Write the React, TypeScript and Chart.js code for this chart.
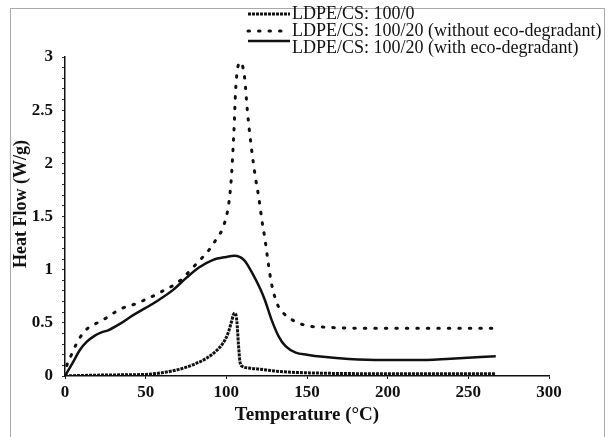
import React, { useEffect, useRef } from "react";
import { Chart, registerables } from "chart.js";

Chart.register(...registerables);

// LDPE/CS: 100/0
const tempPure = [0, 10, 20, 30, 40, 50, 60, 70, 80, 88, 94, 98, 101, 103, 104.5, 105.5, 106.5, 107.5, 108.5, 110, 114, 120, 135, 155, 180, 200, 230, 267];
const heatPure = [0.0, 0.005, 0.008, 0.01, 0.012, 0.015, 0.03, 0.06, 0.11, 0.17, 0.24, 0.31, 0.4, 0.5, 0.58, 0.59, 0.52, 0.3, 0.13, 0.09, 0.075, 0.065, 0.04, 0.028, 0.022, 0.02, 0.02, 0.02];

// LDPE/CS: 100/20 (without eco-degradant)
const tempWithout = [0, 1, 4, 7, 11, 15, 20, 26, 31, 36, 44, 50, 57, 63, 68, 73, 78, 83, 88.5, 93.5, 98.5, 101.5, 103, 104, 105, 105.7, 106.7, 108.3, 110, 111.5, 113, 115.5, 118, 120, 122, 124, 126, 128, 131.5, 135.5, 143, 151, 160, 180, 200, 230, 267];
const heatWithout = [0, 0.09, 0.2, 0.3, 0.4, 0.46, 0.5, 0.55, 0.6, 0.64, 0.68, 0.72, 0.77, 0.82, 0.86, 0.92, 1.0, 1.08, 1.17, 1.28, 1.42, 1.62, 1.84, 2.09, 2.4, 2.67, 2.86, 2.95, 2.92, 2.78, 2.5, 2.15, 1.87, 1.69, 1.47, 1.28, 1.06, 0.87, 0.68, 0.59, 0.51, 0.47, 0.46, 0.45, 0.45, 0.45, 0.45];

// LDPE/CS: 100/20 (with eco-degradant)
const tempWith = [0, 5, 9, 13.4, 18.5, 22.6, 26.7, 34, 42, 50, 58.6, 67, 75, 83, 91.5, 100, 105, 111, 116, 121, 124, 128, 132.5, 136.7, 143, 150, 160, 176, 197, 218, 239, 267];
const heatWith = [0, 0.13, 0.24, 0.32, 0.38, 0.41, 0.43, 0.49, 0.57, 0.64, 0.72, 0.81, 0.92, 1.02, 1.09, 1.12, 1.13, 1.09, 0.97, 0.82, 0.71, 0.53, 0.37, 0.28, 0.22, 0.2, 0.18, 0.16, 0.15, 0.15, 0.163, 0.185];

const seriesLabels = [
  "LDPE/CS: 100/0",
  "LDPE/CS: 100/20 (without eco-degradant)",
  "LDPE/CS: 100/20 (with eco-degradant)",
];

const xTitle = "Temperature (\u00b0C)";
const yTitle = "Heat Flow (W/g)";

const toPoints = (xs: number[], ys: number[]) => xs.map((x, i) => ({ x, y: ys[i] }));

const legendPlugin = {
  id: "customLegend",
  afterDraw(chart: any) {
    const ctx = chart.ctx;
    const ds = chart.data.datasets;
    const rows = [
      { lineY: 14, textY: 14 },
      { lineY: 31, textY: 31 },
      { lineY: 41, textY: 48 },
    ];
    ctx.save();
    rows.forEach((r, i) => {
      const d = ds[i];
      ctx.beginPath();
      ctx.strokeStyle = d.borderColor;
      ctx.lineWidth = d.borderWidth;
      ctx.lineCap = d.borderCapStyle || "butt";
      ctx.setLineDash(d.borderDash || []);
      ctx.moveTo(248, r.lineY);
      ctx.lineTo(290, r.lineY);
      ctx.stroke();
      ctx.setLineDash([]);
      ctx.fillStyle = "#111";
      ctx.font = "18px 'Liberation Serif'";
      ctx.textBaseline = "middle";
      ctx.textAlign = "left";
      ctx.fillText(d.label, 292, r.textY);
    });
    // y axis title
    ctx.translate(21, 204);
    ctx.rotate(-Math.PI / 2);
    ctx.font = "bold 18px 'Liberation Serif'";
    ctx.textAlign = "center";
    ctx.textBaseline = "middle";
    ctx.fillText(yTitle, 0, 0);
    ctx.restore();
  },
};

export default function App() {
  const ref = useRef<HTMLCanvasElement | null>(null);
  useEffect(() => {
    if (!ref.current) return;
    const chart = new Chart(ref.current, {
      type: "line",
      data: {
        datasets: [
          {
            label: seriesLabels[0],
            data: toPoints(tempPure, heatPure),
            borderColor: "#111",
            borderWidth: 3,
            borderDash: [3, 1],
            pointRadius: 0,
            cubicInterpolationMode: "monotone",
            fill: false,
          },
          {
            label: seriesLabels[1],
            data: toPoints(tempWithout, heatWithout),
            borderColor: "#111",
            borderWidth: 3,
            borderDash: [1.5, 9],
            borderCapStyle: "round",
            pointRadius: 0,
            cubicInterpolationMode: "monotone",
            fill: false,
          },
          {
            label: seriesLabels[2],
            data: toPoints(tempWith, heatWith),
            borderColor: "#111",
            borderWidth: 2.5,
            pointRadius: 0,
            cubicInterpolationMode: "monotone",
            fill: false,
          },
        ],
      },
      options: {
        animation: false,
        responsive: false,
        layout: { padding: { left: 0, top: 57, right: 62, bottom: 0 } },
        plugins: { legend: { display: false }, tooltip: { enabled: false } },
        scales: {
          x: {
            type: "linear",
            min: 0,
            max: 300,
            afterFit: (s: any) => {
              s.height = 61;
            },
            border: { display: true, color: "#111", width: 1.5 },
            grid: { drawOnChartArea: false, drawTicks: true, tickLength: 3, tickColor: "#111" },
            ticks: {
              stepSize: 50,
              color: "#111",
              padding: 3,
              font: { family: "'Liberation Serif'", size: 17, weight: "bold" },
            },
            title: {
              display: true,
              text: xTitle,
              color: "#111",
              padding: { top: 0, bottom: 11 },
              font: { family: "'Liberation Serif'", size: 19, weight: "bold" },
            },
          },
          y: {
            type: "linear",
            min: 0,
            max: 3,
            afterFit: (s: any) => {
              s.width = 65;
            },
            border: { display: true, color: "#111", width: 1.5 },
            grid: { drawOnChartArea: false, drawTicks: true, tickLength: 3, tickColor: "#333" },
            ticks: {
              stepSize: 0.1,
              autoSkip: false,
              color: "#111",
              padding: 9,
              font: { family: "'Liberation Serif'", size: 17, weight: "bold" },
              callback: (v: any) => {
                const n = Math.round(Number(v) * 10);
                return n % 5 === 0 ? String(n / 10) : "";
              },
            },
            title: { display: false },
          },
        },
      },
      plugins: [legendPlugin],
    } as any);
    return () => chart.destroy();
  }, []);

  return (
    <div style={{ position: "absolute", left: 0, top: 0, width: 611, height: 437, overflow: "hidden", background: "#fff" }}>
      <div
        style={{
          position: "absolute",
          left: 10,
          top: 8,
          width: 595,
          height: 429,
          boxSizing: "border-box",
          borderTop: "1px solid #aaa",
          borderLeft: "1px solid #aaa",
          borderRight: "1px solid #aaa",
        }}
      />
      <canvas ref={ref} width={611} height={437} style={{ position: "absolute", left: 0, top: 0 }} />
    </div>
  );
}
